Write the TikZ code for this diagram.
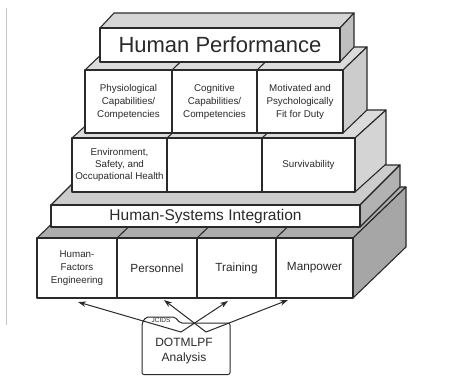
\documentclass[tikz,border=0pt]{standalone}
\usepackage{fontspec}
\setmainfont{Liberation Sans}
\usetikzlibrary{arrows.meta}
\definecolor{ink}{HTML}{2A2A2A}
\tikzset{
  edge/.style={draw=ink, line width=1.1pt, line join=round},
  cell/.style={edge, fill=white, inner sep=0pt, outer sep=0pt, align=center, text=ink, anchor=north west},
  small/.style={font=\fontsize{9.8}{13}\selectfont},
  mid/.style={font=\fontsize{11.8}{13}\selectfont},
  arr/.style={draw=ink, line width=1pt, -{Stealth[length=8pt,width=5.5pt]}},
}
% x1 y1 x2 y2 dx dy(up) topcolour sidecolour
\newcommand\boxfaces[8]{%
  \filldraw[edge, fill=#7] (#1,#2) -- ++(#5,-#6) -- (#3+#5,#2-#6) -- (#3,#2) -- cycle;
  \filldraw[edge, fill=#8] (#3,#2) -- ++(#5,-#6) -- (#3+#5,#4-#6) -- (#3,#4) -- cycle;
}
\begin{document}
\begin{tikzpicture}[x=1pt,y=-1pt]
\useasboundingbox[fill=white] (0,0) rectangle (468,376);
\draw[black!22, line width=1pt] (6,8) -- (6,325);

% ---- bottom block
\boxfaces{37}{238}{353}{298}{53}{51}{black!32}{black!35}
\node[cell, small, minimum width=80pt, minimum height=60pt] (hfe) at (37,238) {Human-\\Factors\\Engineering};
\node[cell, mid, minimum width=80pt, minimum height=60pt] (pers) at (117,238) {Personnel};
\node[cell, mid, minimum width=79pt, minimum height=60pt] (train) at (197,238) {Training};
\node[cell, mid, minimum width=77pt, minimum height=60pt] (manp) at (276,238) {Manpower};
\foreach \n in {pers,train,manp} \draw[edge] (\n.north west) -- ++(53,-51);

% ---- HSI slab
\boxfaces{51}{205}{360}{227}{40}{40}{black!20}{black!30}
\node[cell, font=\fontsize{15.5}{18}\selectfont, minimum width=309pt, minimum height=22pt] (hsi) at (51,205) {Human-Systems Integration};

% ---- row 3
\boxfaces{72}{138}{355}{192}{31}{28}{black!14}{black!17}
\node[cell, small, minimum width=95pt, minimum height=54pt] (esoh) at (72,138) {\raisebox{-3pt}{\shortstack{Environment,\\Safety, and\\Occupational Health}}};
\node[cell, small, minimum width=95pt, minimum height=54pt] (blank) at (167,138) {};
\node[cell, small, minimum width=93pt, minimum height=54pt] (surv) at (262,138) {\raisebox{-3pt}{Survivability}};
\foreach \n in {blank,surv} \draw[edge] (\n.north west) -- ++(31,-28);

% ---- row 2
\boxfaces{85}{70}{343}{133}{24}{23}{black!14}{black!20}
\node[cell, small, minimum width=87pt, minimum height=63pt] (phys) at (85,70) {Physiological\\Capabilities/\\Competencies};
\node[cell, small, minimum width=85pt, minimum height=63pt] (cogn) at (172,70) {Cognitive\\Capabilities/\\Competencies};
\node[cell, small, minimum width=86pt, minimum height=63pt] (moti) at (257,70) {Motivated and\\Psychologically\\Fit for Duty};
\foreach \n in {cogn,moti} \draw[edge] (\n.north west) -- ++(24,-23);

% ---- top block
\boxfaces{100}{28}{340}{62}{14}{15}{black!16}{black!25}
\node[cell, font=\fontsize{22}{24}\selectfont, minimum width=240pt, minimum height=34pt] (hp) at (100,28) {Human Performance};

% ---- folder
\filldraw[edge, line width=1pt, fill=white, rounded corners=2pt]
  (142,374.5) -- (142,323) -- (146,317) -- (175,317) -- (180,323) -- (230,323) -- (230,374.5) -- cycle;
\node[text=ink, font=\fontsize{6.5}{7}\selectfont] (jcids) at (161,320.5) {JCIDS};
\node[text=ink, align=center, font=\fontsize{12}{15}\selectfont] (dotmlpf) at (184,351) {DOTMLPF\\Analysis};

% ---- arrows
\coordinate (srcA) at (181,332);
\coordinate (srcB) at (206,332);
\coordinate (tipH) at (78,302);
\coordinate (tipP) at (164,300);
\coordinate (tipT) at (228,301);
\coordinate (tipM) at (288,300);
\draw[arr] (srcA) -- (tipH);
\draw[arr] (srcA) -- (tipT);
\draw[arr] (srcB) -- (tipP);
\draw[arr] (srcB) -- (tipM);
\end{tikzpicture}
\end{document}
